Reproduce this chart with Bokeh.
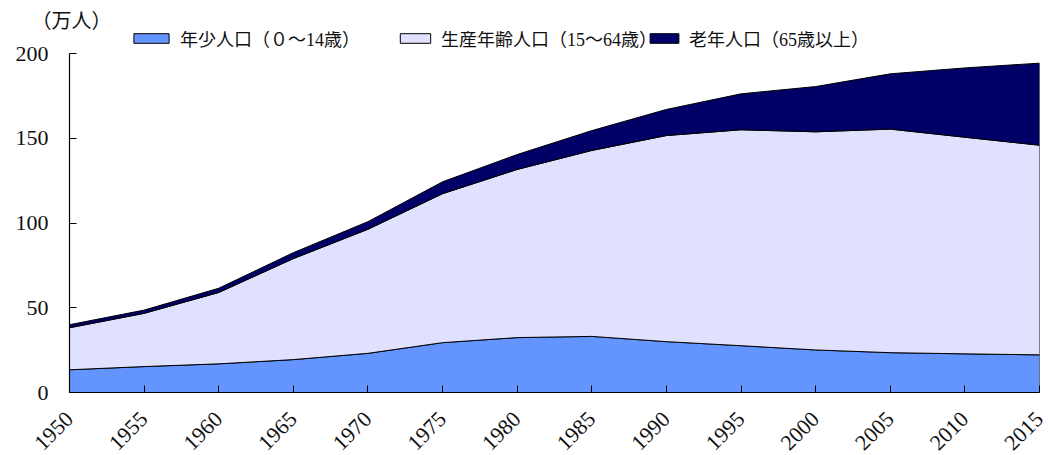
from bokeh.plotting import figure
from bokeh.models import Legend, LegendItem, FixedTicker, Range1d
from bokeh.embed import file_html
from bokeh.resources import INLINE
import math

years = [1950, 1955, 1960, 1965, 1970, 1975, 1980, 1985, 1990, 1995, 2000, 2005, 2010, 2015]
young = [13.4, 15.3, 16.9, 19.4, 23.1, 29.4, 32.4, 33.1, 30.0, 27.6, 25.1, 23.5, 22.8, 22.2]
working = [24.8, 31.4, 42.1, 59.6, 73.2, 87.9, 99.2, 109.7, 121.6, 127.4, 128.7, 131.9, 127.8, 123.7]
old = [1.8, 1.9, 2.5, 3.5, 4.5, 7.0, 8.8, 11.7, 15.4, 21.2, 26.7, 32.6, 40.9, 48.4]

series_names = ["年少人口（０～14歳）", "生産年齢人口（15～64歳）", "老年人口（65歳以上）"]
series_colors = ["#6495FF", "#E0E0FF", "#000066"]
y_ticks = [0, 50, 100, 150, 200]
unit_label = "（万人）"

FONT = "'Liberation Serif', 'Noto Sans CJK JP'"

FRAME_TOP = 31
FRAME_H = 392 - FRAME_TOP
Y_MAX = 200
# keep 200 at the same pixel height as in the reference (339 px per 200)
y_end = Y_MAX * FRAME_H / 339.0

p = figure(frame_width=970, frame_height=FRAME_H, output_backend="svg", toolbar_location=None,
           x_range=Range1d(1950, 2015), y_range=Range1d(0, y_end),
           min_border_left=69, min_border_right=9, min_border_top=FRAME_TOP, min_border_bottom=63,
           title=unit_label)
p.outline_line_color = None
p.xgrid.grid_line_color = None
p.ygrid.grid_line_color = None
p.background_fill_color = "white"
p.border_fill_color = "white"

p.title.align = "left"
p.title.offset = -38
p.title.standoff = 0
p.title.text_font = FONT
p.title.text_font_size = "20px"
p.title.text_font_style = "normal"
p.title.text_color = "#111111"

bottom = [0.0] * len(years)
renderers = []
for vals, color in zip([young, working, old], series_colors):
    top = [b + v for b, v in zip(bottom, vals)]
    xs = years + years[::-1]
    ys = top + bottom[::-1]
    r = p.patch(xs, ys, fill_color=color, line_color="black", line_width=1)
    renderers.append(r)
    bottom = top

# axes
p.xaxis.ticker = FixedTicker(ticks=years)
p.yaxis.ticker = FixedTicker(ticks=y_ticks)
p.yaxis.bounds = (0, Y_MAX)
for ax in (p.xaxis[0], p.yaxis[0]):
    ax.axis_line_color = "black"
    ax.axis_line_width = 1.2
    ax.major_tick_in = 7
    ax.major_tick_out = 0
    ax.major_tick_line_color = "black"
    ax.minor_tick_line_color = None
    ax.major_label_text_font = FONT
    ax.major_label_text_font_size = "22px"
    ax.major_label_text_color = "#111111"
p.yaxis.major_label_standoff = 21
p.xaxis.major_label_standoff = 23
p.xaxis.major_label_orientation = math.pi / 4

# legends, one per item, placed inside the (extended) frame above the 200 line
legend_pos = [60, 327, 577]
glyph_widths = [44, 38, 36]
for name, r, x, gw in zip(series_names, renderers, legend_pos, glyph_widths):
    lg = Legend(items=[LegendItem(label=name, renderers=[r])],
                location=(x, FRAME_H - 20), orientation="horizontal",
                padding=0, margin=0, spacing=0, label_standoff=7,
                glyph_width=gw, glyph_height=12, label_height=20,
                label_text_font=FONT, label_text_font_size="18px",
                label_text_color="#111111",
                border_line_color=None, background_fill_alpha=0)
    p.add_layout(lg)

open("out.html", "w").write(file_html(p, INLINE))
